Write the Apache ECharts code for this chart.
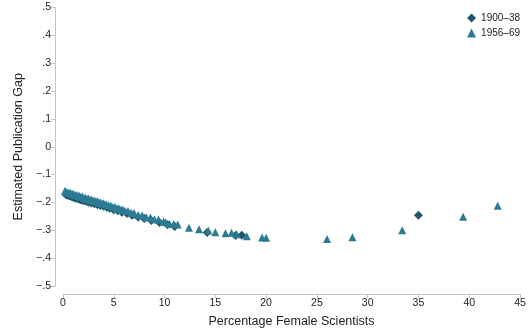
<!DOCTYPE html>
<html>
<head>
<meta charset="utf-8">
<script src="https://cdn.jsdelivr.net/npm/echarts@6/dist/echarts.min.js"></script>
<style>
  html, body { margin: 0; padding: 0; background: #fff; }
  #chart { width: 532px; height: 336px; }
</style>
</head>
<body>
<div id="chart"></div>
<script>
// 1900–38 cohort: [percentage female scientists, estimated gap]
const early = [
  [0.3, -0.172], [0.5, -0.175], [0.7, -0.177], [0.9, -0.180], [1.1, -0.183],
  [1.3, -0.185], [1.5, -0.187], [1.7, -0.190], [1.9, -0.192], [2.1, -0.194],
  [2.3, -0.196], [2.5, -0.199], [2.8, -0.202], [3.1, -0.205], [3.4, -0.208],
  [3.7, -0.211], [4.0, -0.214], [4.3, -0.217], [4.6, -0.221], [5.0, -0.226],
  [5.4, -0.230], [5.8, -0.235], [6.3, -0.240], [6.8, -0.246], [7.4, -0.252],
  [8.0, -0.258], [8.7, -0.265], [9.5, -0.272], [10.3, -0.280], [11.0, -0.286],
  [14.2, -0.308], [17.0, -0.319], [17.6, -0.318], [35.0, -0.246]
];
// 1956–69 cohort
const late = [
  [0.2, -0.158], [0.35, -0.163], [0.5, -0.163], [0.6, -0.166], [0.75, -0.166],
  [0.9, -0.170], [1.0, -0.169], [1.15, -0.173], [1.3, -0.172], [1.45, -0.176],
  [1.6, -0.176], [1.75, -0.180], [1.9, -0.179], [2.05, -0.184], [2.2, -0.183],
  [2.35, -0.187], [2.5, -0.186], [2.65, -0.190], [2.8, -0.189], [2.95, -0.194],
  [3.1, -0.193], [3.25, -0.197], [3.4, -0.196], [3.55, -0.200], [3.7, -0.200],
  [3.85, -0.204], [4.0, -0.203], [4.15, -0.207], [4.3, -0.207], [4.5, -0.211],
  [4.7, -0.211], [4.9, -0.216], [5.1, -0.216], [5.3, -0.221], [5.5, -0.221],
  [5.7, -0.225], [5.9, -0.226], [6.1, -0.230], [6.4, -0.231], [6.7, -0.237],
  [7.0, -0.238], [7.4, -0.245], [7.8, -0.246], [8.2, -0.253], [8.6, -0.254],
  [9.0, -0.260], [9.4, -0.261], [9.9, -0.268], [10.1, -0.271], [10.5, -0.277],
  [10.9, -0.277], [11.3, -0.279], [12.4, -0.291], [13.4, -0.296], [14.3, -0.301],
  [15.0, -0.307], [16.0, -0.311], [16.6, -0.309], [17.1, -0.314], [18.1, -0.321],
  [19.6, -0.326], [20.0, -0.327], [26.0, -0.331], [28.5, -0.325], [33.4, -0.300],
  [39.4, -0.251], [42.8, -0.212]
];
const xTicks = [0, 5, 10, 15, 20, 25, 30, 35, 40, 45];

const fontFamily = '"Liberation Sans", Arial, Helvetica, sans-serif';
const axisGray = '#c4c4c4';

function gapLabel (v) {
  const r = Math.round(v * 10) / 10;
  if (r === 0) return '0';
  const s = Math.abs(r).toFixed(1).replace(/^0/, '');
  return r < 0 ? '\u2212' + s : s;
}

const chart = echarts.init(document.getElementById('chart'), null, { renderer: 'canvas' });
chart.setOption({
  animation: false,
  textStyle: { fontFamily: fontFamily },
  grid: { left: 63, right: 12, top: 7.5, bottom: 50 },
  legend: {
    orient: 'vertical',
    right: 7,
    top: 8,
    itemWidth: 9,
    itemHeight: 9,
    itemGap: 5,
    textStyle: { fontSize: 10, color: '#222', fontFamily: fontFamily },
    data: [
      { name: '1900\u201338', icon: 'diamond' },
      { name: '1956\u201369', icon: 'triangle' }
    ]
  },
  xAxis: {
    type: 'value',
    min: xTicks[0],
    max: xTicks[xTicks.length - 1],
    interval: 5,
    offset: 8,
    name: 'Percentage Female Scientists',
    nameLocation: 'middle',
    nameGap: 21,
    nameTextStyle: { fontSize: 12.5, color: '#222' },
    splitLine: { show: false },
    axisLine: { onZero: false, lineStyle: { color: axisGray, width: 1 } },
    axisTick: { length: 4, lineStyle: { color: axisGray } },
    axisLabel: { fontSize: 10.5, color: '#222', margin: 4 }
  },
  yAxis: {
    type: 'value',
    min: -0.5,
    max: 0.5,
    interval: 0.1,
    offset: 8,
    name: 'Estimated Publication Gap',
    nameLocation: 'middle',
    nameGap: 26,
    nameTextStyle: { fontSize: 12.5, color: '#222' },
    splitLine: { show: false },
    axisLine: { show: true, onZero: false, lineStyle: { color: axisGray, width: 1 } },
    axisTick: { show: true, length: 4, lineStyle: { color: axisGray } },
    axisLabel: { fontSize: 10.5, color: '#222', margin: 4, formatter: gapLabel }
  },
  series: [
    {
      name: '1900\u201338',
      type: 'scatter',
      symbol: 'diamond',
      symbolSize: 9,
      itemStyle: { color: '#1f566b', opacity: 1 },
      data: early,
      z: 2
    },
    {
      name: '1956\u201369',
      type: 'scatter',
      symbol: 'triangle',
      symbolSize: 8,
      itemStyle: { color: '#2c7b93', opacity: 1 },
      data: late,
      z: 3
    }
  ]
});
</script>
</body>
</html>
